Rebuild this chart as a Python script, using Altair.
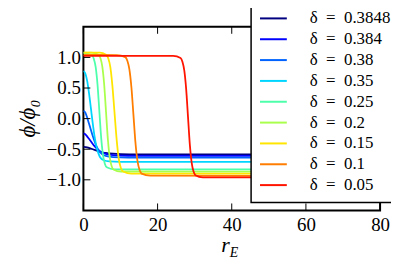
import altair as alt
import pandas as pd

deltas = ["0.3848", "0.384", "0.38", "0.35", "0.25", "0.2", "0.15", "0.1", "0.05"]
labels = ["δ\u2002=\u2002" + d for d in deltas]
colors = ["#000080", "#0000ff", "#0063ff", "#00d5ff", "#4dffaa",
          "#aaff4d", "#ffe500", "#ff7d00", "#ff1400"]

r_a = [0, 1, 2, 3, 4, 5, 6, 8, 10, 15, 80]
v_a = [-0.46, -0.47, -0.49, -0.51, -0.53, -0.55, -0.56, -0.573, -0.58, -0.583, -0.583]
r_b = [0, 0.5, 1, 1.5, 2, 3, 4, 5, 6, 8, 12, 80]
v_b = [-0.24, -0.255, -0.29, -0.33, -0.37, -0.45, -0.51, -0.55, -0.575, -0.597, -0.608, -0.61]
r_c = [0, 0.5, 1, 1.5, 2, 2.5, 3, 3.5, 4, 5, 6, 8, 12, 80]
v_c = [0.13, 0.10, 0.02, -0.08, -0.18, -0.28, -0.37, -0.45, -0.51, -0.58, -0.61, -0.63, -0.637, -0.637]
r_d = [0, 0.5, 1, 1.5, 2, 2.5, 3, 3.5, 4, 4.5, 5.5, 7, 10, 80]
v_d = [0.78, 0.74, 0.62, 0.42, 0.18, -0.07, -0.29, -0.45, -0.56, -0.63, -0.68, -0.70, -0.708, -0.708]
r_e = [0, 2.3, 2.8, 3.3, 3.8, 4.3, 4.8, 5.3, 5.8, 6.3, 8.3, 80]
v_e = [1.07, 1.036, 0.98, 0.844, 0.559, 0.12, -0.319, -0.604, -0.74, -0.796, -0.829, -0.83]
r_f = [0, 2.1, 4.1, 4.6, 5.1, 5.6, 6.1, 6.6, 7.1, 7.6, 8.1, 10.1, 80]
v_f = [1.08, 1.079, 1.045, 0.988, 0.849, 0.557, 0.108, -0.342, -0.634, -0.773, -0.830, -0.864, -0.865]
r_g = [0, 4.4, 6.1, 6.7, 7.25, 7.8, 8.4, 9.0, 9.55, 10.1, 10.7, 13, 80]
v_g = [1.08, 1.079, 1.044, 0.986, 0.844, 0.547, 0.09, -0.367, -0.664, -0.806, -0.864, -0.898, -0.90]
r_h = [0, 9, 11.3, 11.85, 12.4, 12.95, 13.5, 14.05, 14.6, 15.15, 15.7, 18, 80]
v_h = [1.04, 1.039, 1.005, 0.946, 0.805, 0.509, 0.053, -0.403, -0.700, -0.841, -0.899, -0.933, -0.935]
r_i = [0, 20, 24.2, 26.2, 26.7, 27.2, 27.7, 28.2, 28.7, 29.2, 29.7, 30.2, 32.2, 80]
v_i = [1.025, 1.025, 1.024, 0.99, 0.931, 0.789, 0.491, 0.033, -0.426, -0.724, -0.866, -0.924, -0.959, -0.96]

x_ticks = [0, 20, 40, 60, 80]
y_ticks = [-1.0, -0.5, 0.0, 0.5, 1.0]

series = [(r_a, v_a), (r_b, v_b), (r_c, v_c), (r_d, v_d), (r_e, v_e),
          (r_f, v_f), (r_g, v_g), (r_h, v_h), (r_i, v_i)]
rows = []
for lab, (rs, vs) in zip(labels, series):
    for r, v in zip(rs, vs):
        rows.append({"label": lab, "r": r, "v": v})
df = pd.DataFrame(rows)

W, H = 299, 185
FONT = "Liberation Serif"

x_scale = alt.Scale(domain=[0, 80], nice=False, zero=False)
y_scale = alt.Scale(domain=[-1.5, 1.5], nice=False, zero=False)
x_axis = alt.Axis(values=x_ticks, ticks=False, tickSize=0, domain=False, grid=False,
                  labelFont=FONT, labelFontSize=19, labelColor="black",
                  labelPadding=5, title=None, labelFlush=False)
y_axis = alt.Axis(values=y_ticks, ticks=False, tickSize=0, domain=False, grid=False,
                  format=".1f", labelFont=FONT, labelFontSize=19, labelColor="black",
                  labelPadding=3, title="ϕ/ϕ₀", titleFont=FONT,
                  titleFontStyle="italic", titleFontWeight="normal", titleFontSize=23,
                  titleColor="black", titleAngle=270, titleX=-56, titleY=92,
                  titleAlign="center", titleBaseline="middle", labelFlush=False)

lines = alt.Chart(df).mark_line(strokeWidth=1.8, interpolate="monotone", clip=True).encode(
    x=alt.X("r:Q", scale=x_scale, axis=x_axis),
    y=alt.Y("v:Q", scale=y_scale, axis=y_axis),
    color=alt.Color("label:N", scale=alt.Scale(domain=labels, range=colors),
                    sort=labels,
                    legend=alt.Legend(orient="none", legendX=169, legendY=-26,
                                      title=None, symbolType="M-3,0H3", symbolSize=81,
                                      symbolStrokeWidth=2, symbolOffset=5,
                                      labelOffset=28, labelFont=FONT, labelFontSize=17,
                                      labelColor="black", rowPadding=3, padding=9,
                                      labelLimit=300,
                                      fillColor="white", strokeColor="black",
                                      zindex=5)),
)

xt = pd.DataFrame({"r": x_ticks})
yt = pd.DataFrame({"v": y_ticks})
tick_x_bottom = alt.Chart(xt).mark_rule(color="black", strokeWidth=1).encode(
    x=alt.X("r:Q", scale=x_scale, axis=x_axis), y=alt.value(H), y2=alt.value(H - 7))
tick_x_top = alt.Chart(xt).mark_rule(color="black", strokeWidth=1).encode(
    x=alt.X("r:Q", scale=x_scale, axis=x_axis), y=alt.value(0), y2=alt.value(7))
tick_y_left = alt.Chart(yt).mark_rule(color="black", strokeWidth=1).encode(
    y=alt.Y("v:Q", scale=y_scale, axis=y_axis), x=alt.value(0), x2=alt.value(7))
tick_y_right = alt.Chart(yt).mark_rule(color="black", strokeWidth=1).encode(
    y=alt.Y("v:Q", scale=y_scale, axis=y_axis), x=alt.value(W), x2=alt.value(W - 7))

one = pd.DataFrame({"a": [0]})
title_r = alt.Chart(one).mark_text(text="r", font=FONT, fontSize=22, fontStyle="italic",
                                   align="left", baseline="alphabetic", color="black").encode(
    x=alt.value(139), y=alt.value(227))
title_e = alt.Chart(one).mark_text(text="E", font=FONT, fontSize=14, fontStyle="italic",
                                   align="left", baseline="alphabetic", color="black").encode(
    x=alt.value(147.5), y=alt.value(232))

chart = alt.layer(lines, tick_x_bottom, tick_x_top, tick_y_left, tick_y_right,
                  title_r, title_e).properties(
    width=W, height=H,
    autosize=alt.AutoSizeParams(type="none"),
    padding={"left": 76, "top": 18, "right": 11, "bottom": 49},
).configure_view(stroke="black", strokeWidth=2).configure_legend(strokeWidth=1.5)

chart.save("out.html", embed_options={"renderer": "svg", "actions": False})
